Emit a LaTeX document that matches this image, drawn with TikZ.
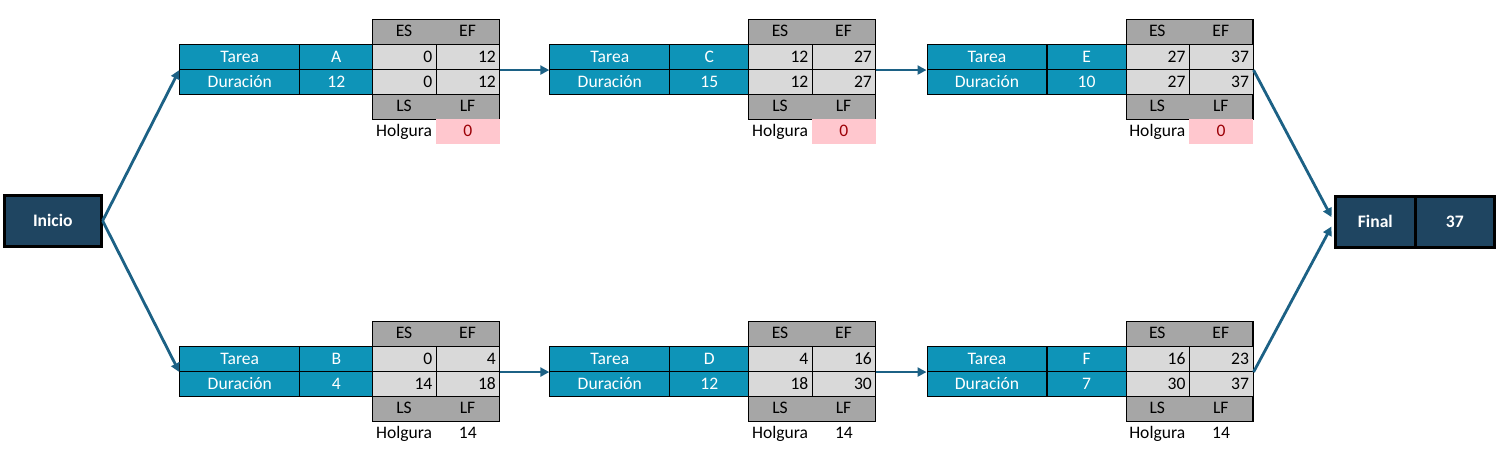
\documentclass[tikz,border=0pt]{standalone}
\usepackage{fontspec}
\setmainfont{Carlito}
\usetikzlibrary{arrows.meta}

\definecolor{celda}{HTML}{0E94B8}
\definecolor{marino}{HTML}{1F4561}
\definecolor{gris}{HTML}{A6A6A6}
\definecolor{grisclaro}{HTML}{D9D9D9}
\definecolor{rosa}{HTML}{FFC7CE}
\definecolor{rojo}{HTML}{9C0006}
\definecolor{flecha}{HTML}{1C6185}

\begin{document}
\begin{tikzpicture}[
    x=0.02cm,
    y=-0.02cm,
    font=\fontsize{10}{12}\selectfont,
    cell/.style={
        rectangle,
        draw,
        line width=0.6pt,
        inner sep=0,
        minimum height=0.5cm,
        anchor=north west,
        text height=1.6ex,
        text depth=0.4ex
    },
    lab/.style={cell, fill=celda, text=white},
    num/.style={cell, fill=grisclaro, text width=1.11cm, inner xsep=0.08cm, align=right},
    hdr/.style={
        rectangle,
        draw,
        line width=0.6pt,
        fill=gris,
        inner sep=0,
        minimum width=2.54cm,
        minimum height=0.5cm,
        anchor=north west
    },
    txt/.style={inner sep=0, text height=1.6ex, text depth=0.4ex},
    hval/.style={
        rectangle,
        inner sep=0,
        minimum width=1.27cm,
        minimum height=0.5cm,
        anchor=north west,
        text height=1.6ex,
        text depth=0.4ex
    },
    crit/.style={fill=rosa, text=rojo},
    plain/.style={},
    box/.style={
        rectangle,
        draw,
        line width=1.5pt,
        fill=marino,
        text=white,
        font=\fontsize{10}{12}\selectfont\bfseries,
        minimum height=1.02cm,
        inner sep=0,
        anchor=north west
    },
    arrow/.style={-{Triangle[length=0.18cm, width=0.18cm]}, line width=1.6pt, draw=flecha}
]

\useasboundingbox (0,0) rectangle (1497,456);

% Start and end
\node[box, minimum width=1.94cm] (ini) at (3,194) {Inicio};
\node[box, minimum width=1.6cm] (fin) at (1334,195) {Final};
\node[box, minimum width=1.58cm] (fin-v) at (1414,195) {37};

% Task blocks
\foreach \tk/\px/\py/\vw/\du/\es/\ef/\ls/\lf/\hg/\hs in {
    A/179.3/19/73/12/0/12/0/12/0/crit,
    C/549.3/19/79/15/12/27/12/27/0/crit,
    E/926.5/19/79/10/27/37/27/37/0/crit,
    B/179.3/321/73/4/0/4/14/18/14/plain,
    D/549.3/321/79/12/4/16/18/30/14/plain,
    F/926.5/321/79/7/16/23/30/37/14/plain}
{
    \pgfmathsetmacro\xa{\px+120}
    \pgfmathsetmacro\xb{\px+120+\vw}
    \pgfmathsetmacro\xc{\px+183.5+\vw}
    \pgfmathsetmacro\ya{\py+25}
    \pgfmathsetmacro\yb{\py+50}
    \pgfmathsetmacro\yc{\py+75}
    \pgfmathsetmacro\yd{\py+100}

    % ES / EF header
    \node[hdr] (\tk-hd) at (\xb,\py) {};
    \node[txt] (\tk-hes) at ({\xb+31.75},{\py+12.5}) {ES};
    \node[txt] (\tk-hef) at ({\xc+31.75},{\py+12.5}) {EF};

    % Task and duration
    \node[lab, minimum width=2.4cm] (\tk-t) at (\px,\ya) {Tarea};
    \node[lab, minimum width=\vw*0.02cm] (\tk-id) at (\xa,\ya) {\tk};
    \node[lab, minimum width=2.4cm] (\tk-d) at (\px,\yb) {Duración};
    \node[lab, minimum width=\vw*0.02cm] (\tk-dv) at (\xa,\yb) {\du};

    % Times
    \node[num] (\tk-es) at (\xb,\ya) {\es};
    \node[num] (\tk-ef) at (\xc,\ya) {\ef};
    \node[num] (\tk-ls) at (\xb,\yb) {\ls};
    \node[num] (\tk-lf) at (\xc,\yb) {\lf};

    % LS / LF footer
    \node[hdr] (\tk-ft) at (\xb,\yc) {};
    \node[txt] (\tk-fls) at ({\xb+31.75},{\yc+12.5}) {LS};
    \node[txt] (\tk-flf) at ({\xc+31.75},{\yc+12.5}) {LF};

    % Slack
    \node[txt] (\tk-hl) at ({\xb+31.75},{\yd+12.5}) {Holgura};
    \node[hval, \hs] (\tk-hv) at (\xc,\yd) {\hg};
}

% Connectors
\draw[arrow] (ini.east) -- (A-t.south west);
\draw[arrow] (ini.east) -- (B-t.south west);
\draw[arrow] (A-ef.south east) -- (C-t.south west);
\draw[arrow] (C-ef.south east) -- (E-t.south west);
\draw[arrow] (B-ef.south east) -- (D-t.south west);
\draw[arrow] (D-ef.south east) -- (F-t.south west);
\draw[arrow, shorten >=3pt] (E-ef.south east) -- (fin.west);
\draw[arrow, shorten >=3pt] (F-ef.south east) -- (fin.west);

\end{tikzpicture}
\end{document}
